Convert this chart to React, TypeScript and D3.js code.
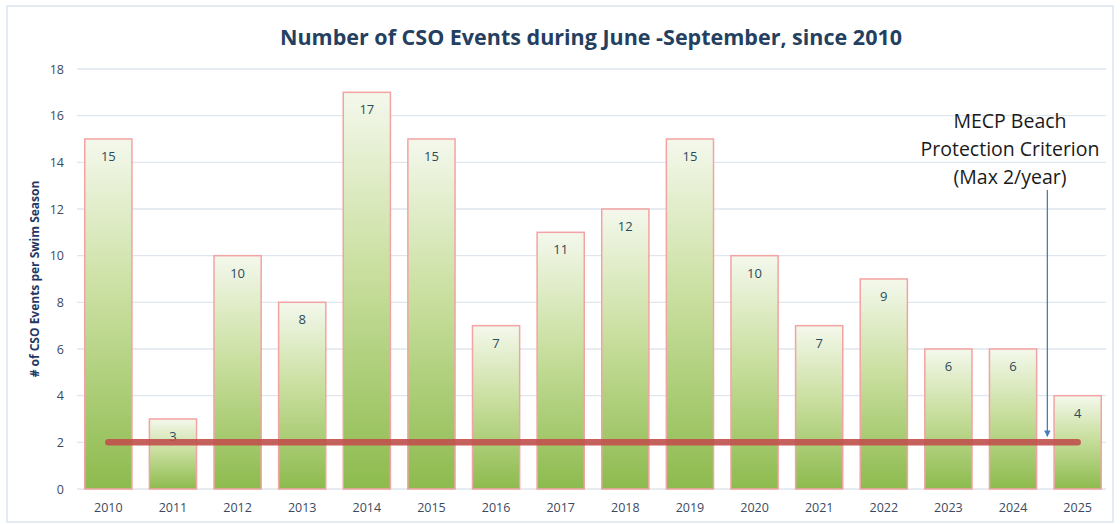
import React from "react";
import * as d3 from "d3";

const years = ["2010", "2011", "2012", "2013", "2014", "2015", "2016", "2017", "2018", "2019", "2020", "2021", "2022", "2023", "2024", "2025"];
const events = [15, 3, 10, 8, 17, 15, 7, 11, 12, 15, 10, 7, 9, 6, 6, 4];
const yTicks = [0, 2, 4, 6, 8, 10, 12, 14, 16, 18];
const criterion = 2;
const noteLines = ["MECP Beach", "Protection Criterion", "(Max 2/year)"];

const W = 1120;
const H = 524;
const margin = { top: 69, right: 11, bottom: 35, left: 77 };

export default function App() {
  const x = d3
    .scaleBand()
    .domain(years)
    .range([margin.left, W - margin.right])
    .paddingInner(0.27)
    .paddingOuter(0.12);
  const y = d3
    .scaleLinear()
    .domain([0, 18])
    .range([H - margin.bottom, margin.top]);

  const font = "'Open Sans', 'DejaVu Sans', sans-serif";
  const first = x(years[0])! + x.bandwidth() / 2;
  const last = x(years[years.length - 1])! + x.bandwidth() / 2;
  const arrowX = (x("2024")! + x.bandwidth() + x("2025")!) / 2 + 2;

  return (
    <svg width={W} height={H} style={{ position: "absolute", left: 0, top: 0, background: "#fff" }}>
      <defs>
        <linearGradient id="barFill" x1="0" y1="0" x2="0" y2="1">
          <stop offset="0%" stopColor="#f4f8ec" />
          <stop offset="45%" stopColor="#c9df9f" />
          <stop offset="100%" stopColor="#8dbb4e" />
        </linearGradient>
        <marker id="arrowHead" viewBox="0 0 10 10" refX="9" refY="5" markerWidth="5" markerHeight="5" orient="auto">
          <path d="M0,0 L10,5 L0,10 z" fill="#4a7ebb" />
        </marker>
      </defs>
      <rect x={7} y={6} width={W - 14} height={H - 8} fill="none" stroke="#dce4ee" strokeWidth={1.5} />

      <text x={591} y={45} textAnchor="middle" fontFamily={font} fontWeight="bold" fontSize={21.5} fill="#243f60">
        Number of CSO Events during June -September, since 2010
      </text>

      {yTicks.map((t) => (
        <g key={t}>
          <line x1={margin.left} x2={W - margin.right - 3} y1={y(t)} y2={y(t)} stroke="#dfe6ee" strokeWidth={1.3} />
          <text x={64} y={y(t) + 4.5} textAnchor="end" fontFamily={font} fontSize={12.5} fill="#3b4a5e">
            {t}
          </text>
        </g>
      ))}

      <text
        transform={`translate(39, ${(y(0) + y(18)) / 2}) rotate(-90)`}
        textAnchor="middle"
        fontFamily={font}
        fontWeight="bold"
        fontSize={12}
        fill="#1f3864"
      >
        # of CSO Events per Swim Season
      </text>

      {years.map((yr, i) => (
        <g key={yr}>
          <rect
            x={x(yr)}
            y={y(events[i])}
            width={x.bandwidth()}
            height={y(0) - y(events[i])}
            fill="url(#barFill)"
            stroke="#f3a3a3"
            strokeWidth={1.5}
          />
          <text
            x={x(yr)! + x.bandwidth() / 2}
            y={y(events[i]) + 22}
            textAnchor="middle"
            fontFamily={font}
            fontSize={13}
            fill="#2b4a5e"
          >
            {events[i]}
          </text>
          <text
            x={x(yr)! + x.bandwidth() / 2}
            y={y(0) + 23}
            textAnchor="middle"
            fontFamily={font}
            fontSize={12.5}
            fill="#3b4a5e"
          >
            {yr}
          </text>
        </g>
      ))}

      <line
        x1={first}
        x2={last}
        y1={y(criterion)}
        y2={y(criterion)}
        stroke="#c0504d"
        strokeOpacity={0.9}
        strokeWidth={6.5}
        strokeLinecap="round"
      />

      {noteLines.map((l, i) => (
        <text key={l} x={1010} y={128 + i * 28} textAnchor="middle" fontFamily={font} fontSize={19.5} fill="#1a1a1a">
          {l}
        </text>
      ))}
      <line
        x1={arrowX}
        x2={arrowX}
        y1={190}
        y2={y(criterion) - 6}
        stroke="#4a7ebb"
        strokeWidth={1.3}
        markerEnd="url(#arrowHead)"
      />
    </svg>
  );
}
